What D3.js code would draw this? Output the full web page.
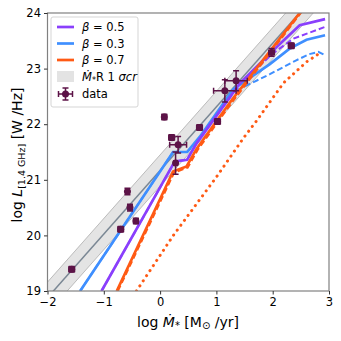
<!DOCTYPE html>
<html>
<script src="https://d3js.org/d3.v7.min.js"></script>
<style>
    body { margin: 0; background: white; }
    text { font-family: "DejaVu Sans", sans-serif; }
</style>
<body></body>
<script>
    const width = 341, height = 341;

    // band: Mdot-R relation with 1 sigma
    const bandX = [-2, 3];
    const bandMid = [18.88, 24.6];
    const bandLo = [18.6, 24.32];
    const bandHi = [19.16, 24.88];

    // beta = 0.3 (blue)
    const blueX = [-1.42, 0.23, 0.48, 0.71, 1.3, 1.95, 2.3, 2.6, 2.93];
    const blueSolid = [19, 21.5, 21.5, 21.78, 22.63, 23.08, 23.36, 23.52, 23.6];
    const blueDashX = [-1.42, 0.23, 0.48, 0.71, 1.3, 1.95, 2.4, 2.65, 2.81, 2.93];
    const blueDash = [19, 21.5, 21.5, 21.76, 22.58, 22.9, 23.14, 23.26, 23.3, 23.24];

    // beta = 0.5 (purple)
    const purpX = [-1.04, 0.26, 0.48, 0.65, 1.0, 1.42, 2.07, 2.48, 2.93];
    const purpSolid = [19, 21.33, 21.36, 21.66, 22.15, 22.74, 23.39, 23.78, 23.89];
    const purpDashX = [-1.04, 0.26, 0.48, 0.65, 1.0, 1.42, 2.0, 2.37, 2.93];
    const purpDash = [19, 21.33, 21.36, 21.66, 22.15, 22.72, 23.27, 23.54, 23.75];

    // beta = 0.7 (orange)
    const orX = [-0.77, 0.23, 0.47, 0.65, 1.27, 2.48, 2.6];
    const orSolid = [19, 21.15, 21.24, 21.56, 22.43, 24, 24.15];
    const orDashX = [-0.75, 0.25, 0.49, 0.67, 1.29, 2.5, 2.6];
    const orDash = [19, 21.13, 21.22, 21.54, 22.41, 24, 24.12];
    const orDotX = [-0.42, 0.235, 1.0, 1.48, 1.72, 2.19, 2.6, 2.87];
    const orDot = [19, 20.0, 21.05, 21.75, 22.07, 22.74, 23.12, 23.3];

    // data points
    const dataX = [-1.57, -0.70, -0.58, -0.535, -0.43, 0.075, 0.205, 0.32, 0.275, 0.70, 1.02, 1.15, 1.35, 1.98, 2.33];
    const dataY = [19.39, 20.11, 20.79, 20.50, 20.26, 22.13, 21.76, 21.63, 21.30, 21.94, 22.05, 22.60, 22.78, 23.29, 23.41];
    const dataXErr = [0.05, 0.05, 0.03, 0.04, 0.04, 0.04, 0.05, 0.15, 0.03, 0.05, 0.05, 0.2, 0.2, 0.05, 0.05];
    const dataYErr = [0.05, 0.05, 0.06, 0.06, 0.05, 0.05, 0.05, 0.15, 0.2, 0.05, 0.05, 0.2, 0.18, 0.07, 0.05];

    const xTicks = [-2, -1, 0, 1, 2, 3];
    const yTicks = [19, 20, 21, 22, 23, 24];

    const mLeft = 47.5, mRight = 329, mTop = 13, mBottom = 291;
    const x = d3.scaleLinear().domain([-2, 3]).range([mLeft, mRight]);
    const y = d3.scaleLinear().domain([19, 24]).range([mBottom, mTop]);

    const svg = d3.select("body").append("svg").attr("width", width).attr("height", height);

    svg.append("clipPath").attr("id", "clip")
        .append("rect").attr("x", mLeft).attr("y", mTop)
        .attr("width", mRight - mLeft).attr("height", mBottom - mTop);

    const plot = svg.append("g").attr("clip-path", "url(#clip)");

    const mk = (xs, ys) => xs.map((v, i) => [v, ys[i]]);
    const line = d3.line().x(d => x(d[0])).y(d => y(d[1]));

    // band
    plot.append("path")
        .datum(bandX.map((v, i) => [v, bandLo[i], bandHi[i]]))
        .attr("fill", "#d9d9d9").attr("fill-opacity", 0.7)
        .attr("stroke", "none")
        .attr("d", d3.area().x(d => x(d[0])).y0(d => y(d[1])).y1(d => y(d[2])));
    [bandLo, bandHi].forEach(b => {
        plot.append("path").datum(mk(bandX, b))
            .attr("fill", "none").attr("stroke", "#bbbbbb").attr("stroke-width", 1)
            .attr("d", line);
    });
    plot.append("path").datum(mk(bandX, bandMid))
        .attr("fill", "none").attr("stroke", "#7a8794").attr("stroke-width", 1.5)
        .attr("d", line);

    const purple = "#8a3ffc", blue = "#3f8fff", orange = "#ff5a14";

    const series = [
        { xs: orDotX, ys: orDot, c: orange, dash: "0.1,6", cap: "round", w: 3 },
        { xs: blueDashX, ys: blueDash, c: blue, dash: "6,3", w: 2 },
        { xs: purpDashX, ys: purpDash, c: purple, dash: "6,3", w: 2 },
        { xs: blueX, ys: blueSolid, c: blue, w: 2.7 },
        { xs: purpX, ys: purpSolid, c: purple, w: 2.7 },
        { xs: orDashX, ys: orDash, c: orange, dash: "6,3", w: 2 },
        { xs: orX, ys: orSolid, c: orange, w: 2.7 }
    ];
    series.forEach(s => {
        plot.append("path").datum(mk(s.xs, s.ys))
            .attr("fill", "none").attr("stroke", s.c)
            .attr("stroke-width", s.w)
            .attr("stroke-dasharray", s.dash || null)
            .attr("stroke-linecap", s.cap || "butt")
            .attr("d", line);
    });

    // data with error bars
    const dcol = "#5c1347";
    const pts = plot.selectAll("g.pt").data(dataX.map((v, i) => ({ x: v, y: dataY[i], ex: dataXErr[i], ey: dataYErr[i] })))
        .join("g").attr("class", "pt");
    pts.each(function (d) {
        const g = d3.select(this);
        const cx = x(d.x), cy = y(d.y);
        const x0 = x(d.x - d.ex), x1 = x(d.x + d.ex);
        const y0 = y(d.y - d.ey), y1 = y(d.y + d.ey);
        const seg = (a, b, c, e) => g.append("line").attr("x1", a).attr("y1", b).attr("x2", c).attr("y2", e)
            .attr("stroke", dcol).attr("stroke-width", 1.5);
        seg(x0, cy, x1, cy);
        seg(cx, y0, cx, y1);
        seg(x0, cy - 3, x0, cy + 3);
        seg(x1, cy - 3, x1, cy + 3);
        seg(cx - 3, y0, cx + 3, y0);
        seg(cx - 3, y1, cx + 3, y1);
        g.append("circle").attr("cx", cx).attr("cy", cy).attr("r", 3.5).attr("fill", dcol);
    });

    // frame
    svg.append("rect").attr("x", mLeft).attr("y", mTop)
        .attr("width", mRight - mLeft).attr("height", mBottom - mTop)
        .attr("fill", "none").attr("stroke", "#808080").attr("stroke-width", 1.2);

    // axes
    const xAxis = svg.append("g")
        .attr("transform", `translate(0,${mBottom})`)
        .call(d3.axisBottom(x).tickValues(xTicks).tickSize(3.5).tickFormat(d => d < 0 ? "\u2212" + Math.abs(d) : d));
    const yAxis = svg.append("g")
        .attr("transform", `translate(${mLeft},0)`)
        .call(d3.axisLeft(y).tickValues(yTicks).tickSize(3.5).tickFormat(d => d));
    [xAxis, yAxis].forEach(a => {
        a.select(".domain").remove();
        a.selectAll(".tick line").attr("stroke", "#333");
        a.selectAll(".tick text").attr("font-size", 11.5).attr("fill", "#000")
            .attr("font-family", "DejaVu Sans");
    });

    // axis labels
    const xl = svg.append("text").attr("x", 188).attr("y", 327)
        .attr("text-anchor", "middle").attr("font-size", 14);
    xl.append("tspan").text("log ");
    xl.append("tspan").attr("font-style", "italic").text("\u1E40");
    xl.append("tspan").attr("font-size", 10).attr("dy", 2).text("*");
    xl.append("tspan").attr("dy", -2).text(" [M");
    xl.append("tspan").attr("font-size", 10).attr("dy", 2).text("\u2299");
    xl.append("tspan").attr("dy", -2).text(" /yr]");

    const yl = svg.append("text")
        .attr("transform", "translate(22,155) rotate(-90)")
        .attr("text-anchor", "middle").attr("font-size", 14);
    yl.append("tspan").text("log ");
    yl.append("tspan").attr("font-style", "italic").text("L");
    yl.append("tspan").attr("font-size", 9.5).attr("dy", 3).text("[1.4 GHz]");
    yl.append("tspan").attr("dy", -3).text(" [W /Hz]");

    // legend
    const lg = svg.append("g").attr("transform", "translate(51,17)");
    lg.append("rect").attr("width", 87).attr("height", 90).attr("rx", 2)
        .attr("fill", "white").attr("fill-opacity", 0.85)
        .attr("stroke", "#d5d5d5");
    const legItems = [
        { c: purple, t: "0.5" },
        { c: blue, t: "0.3" },
        { c: orange, t: "0.7" }
    ];
    legItems.forEach((d, i) => {
        const yy = 10 + i * 16.5;
        lg.append("line").attr("x1", 6).attr("x2", 23).attr("y1", yy).attr("y2", yy)
            .attr("stroke", d.c).attr("stroke-width", 2.7);
        const t = lg.append("text").attr("x", 31).attr("y", yy + 4).attr("font-size", 11.5);
        t.append("tspan").attr("font-style", "italic").text("\u03B2");
        t.append("tspan").text(" = " + d.t);
    });
    lg.append("rect").attr("x", 6).attr("y", 54).attr("width", 17).attr("height", 11)
        .attr("fill", "#e3e3e3");
    const bt = lg.append("text").attr("x", 31).attr("y", 64).attr("font-size", 11.5);
    bt.append("tspan").attr("font-style", "italic").text("\u1E40");
    bt.append("tspan").attr("font-size", 8).attr("dy", 2).text("*");
    bt.append("tspan").attr("dy", -2).text("R 1 ");
    bt.append("tspan").attr("font-style", "italic").text("\u03C3cr");
    const dg = lg.append("g").attr("transform", "translate(14.5,77)");
    const dseg = (a, b, c, e) => dg.append("line").attr("x1", a).attr("y1", b).attr("x2", c).attr("y2", e)
        .attr("stroke", dcol).attr("stroke-width", 1.5);
    dseg(-7, 0, 7, 0);
    dseg(0, -6, 0, 6);
    dseg(-7, -3, -7, 3);
    dseg(7, -3, 7, 3);
    dseg(-3, -6, 3, -6);
    dseg(-3, 6, 3, 6);
    dg.append("circle").attr("r", 3.5).attr("fill", dcol);
    lg.append("text").attr("x", 31).attr("y", 81).attr("font-size", 11.5).text("data");
</script>
</html>
